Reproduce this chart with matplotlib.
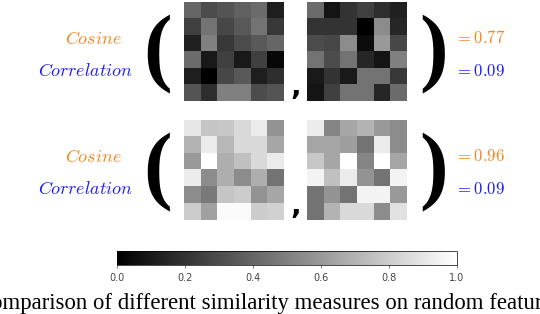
import numpy as np
import matplotlib
matplotlib.use('Agg')
import matplotlib.pyplot as plt

plt.rcParams['mathtext.fontset'] = 'cm'

# 四个 6x6 随机特征矩阵（灰度值 0~1）
topLeft = np.array([
	[0.40, 0.30, 0.33, 0.38, 0.42, 0.12],
	[0.25, 0.45, 0.28, 0.35, 0.45, 0.22],
	[0.13, 0.50, 0.22, 0.30, 0.35, 0.40],
	[0.42, 0.10, 0.25, 0.10, 0.25, 0.03],
	[0.12, 0.00, 0.28, 0.35, 0.12, 0.18],
	[0.33, 0.18, 0.50, 0.50, 0.30, 0.33],
])
topRight = np.array([
	[0.42, 0.08, 0.20, 0.25, 0.18, 0.13],
	[0.20, 0.20, 0.20, 0.00, 0.55, 0.15],
	[0.30, 0.28, 0.55, 0.05, 0.60, 0.28],
	[0.45, 0.30, 0.45, 0.15, 0.08, 0.50],
	[0.10, 0.20, 0.10, 0.45, 0.45, 0.22],
	[0.08, 0.25, 0.45, 0.45, 0.15, 0.42],
])
bottomLeft = np.array([
	[0.90, 0.77, 0.78, 0.85, 0.92, 0.58],
	[0.70, 0.92, 0.72, 0.85, 0.85, 0.65],
	[0.60, 1.00, 0.68, 0.75, 0.85, 0.92],
	[0.92, 0.55, 0.68, 0.55, 0.68, 0.45],
	[0.55, 0.48, 0.77, 0.80, 0.58, 0.65],
	[0.80, 0.63, 0.98, 0.98, 0.80, 0.82],
])
bottomRight = np.array([
	[0.92, 0.52, 0.65, 0.70, 0.60, 0.55],
	[0.65, 0.65, 0.62, 0.45, 0.92, 0.55],
	[0.78, 0.65, 1.00, 0.52, 1.00, 0.65],
	[0.95, 0.75, 0.92, 0.58, 0.45, 0.95],
	[0.45, 0.58, 0.45, 0.95, 0.95, 0.60],
	[0.45, 0.70, 0.85, 0.85, 0.55, 0.88],
])
cosineVals = ['0.77', '0.96']
corrVals = ['0.09', '0.09']
cbTicks = [0.0, 0.2, 0.4, 0.6, 0.8, 1.0]
caption = 'Comparison of different similarity measures on random features'

W, H = 540, 314
fig = plt.figure(figsize=(W / 100, H / 100), dpi=100)

def px_axes(x0, y0, x1, y1):
	# 像素坐标（左上为原点）转为 figure 坐标
	return fig.add_axes([x0 / W, 1 - y1 / H, (x1 - x0) / W, (y1 - y0) / H])

orange = '#f7841e'
blue = '#1a1aff'
rows = [(topLeft, topRight, 2, 101), (bottomLeft, bottomRight, 120, 220)]
for i, (left, right, yTop, yBot) in enumerate(rows):
	for mat, x0, x1 in [(left, 184, 284), (right, 307, 407)]:
		ax = px_axes(x0, yTop, x1, yBot)
		im = ax.imshow(mat, cmap='gray', vmin=0, vmax=1, aspect='auto', interpolation='nearest')
		ax.axis('off')
	yc = (yTop + yBot) / 2
	# 括号和逗号
	fig.text(158 / W, 1 - (yc + 2) / H, '(', fontsize=62, fontweight='bold',
			 family='Liberation Serif', ha='center', va='center')
	fig.text(434 / W, 1 - (yc + 2) / H, ')', fontsize=62, fontweight='bold',
			 family='Liberation Serif', ha='center', va='center')
	fig.text(296 / W, 1 - (yBot - 14) / H, ',', fontsize=20, fontweight='bold',
			 ha='center', va='center')
	# 左侧标签
	fig.text(93 / W, 1 - (yTop + 37) / H, r'$Cosine$', color=orange, fontsize=13,
			 ha='center', va='center')
	fig.text(86 / W, 1 - (yTop + 69) / H, r'$Correlation$', color=blue, fontsize=13,
			 ha='center', va='center')
	# 右侧数值
	fig.text(455 / W, 1 - (yTop + 36) / H, r'$= %s$' % cosineVals[i], color=orange,
			 fontsize=12, ha='left', va='center')
	fig.text(455 / W, 1 - (yTop + 69) / H, r'$= %s$' % corrVals[i], color=blue,
			 fontsize=12, ha='left', va='center')

# 颜色条
cax = px_axes(117, 251, 457, 265)
cb = fig.colorbar(im, cax=cax, orientation='horizontal', ticks=cbTicks)
cb.ax.tick_params(labelsize=7, length=2, width=0.5, colors='#444444')
cb.outline.set_linewidth(0.5)
cb.ax.set_xticklabels(['%.1f' % t for t in cbTicks])

# 图注（参考图中左右两端被裁切）
fig.text(-24 / W, 1 - 303 / H, caption, fontsize=16.4, family='Liberation Serif',
		 ha='left', va='center')

fig.savefig('out.png', dpi=100)
